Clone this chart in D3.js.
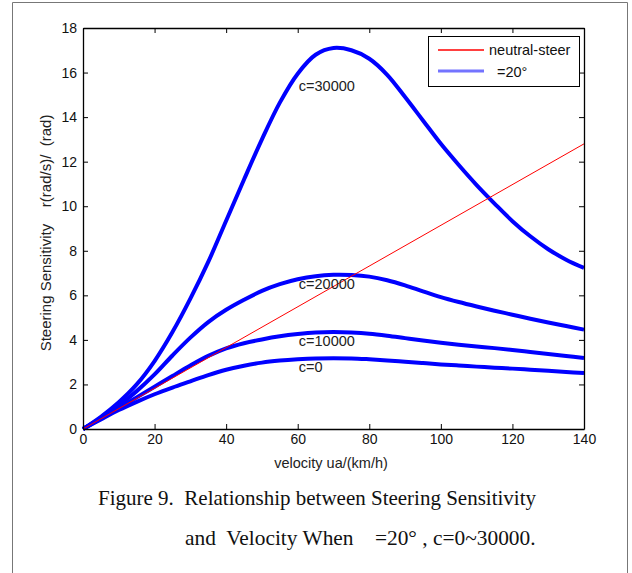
<!DOCTYPE html>
<html>
<head>
<meta charset="utf-8">
<title>Steering sensitivity vs velocity</title>
<script src="https://d3js.org/d3.v7.min.js"></script>
<style>
  body { margin: 0; background: #fff; }
  svg text { white-space: pre; }
</style>
</head>
<body>
<svg width="632" height="573"></svg>
<script>
// velocity (km/h) and steering sensitivity readings for each c value
var velocity = [0, 5, 10, 15, 20, 25, 30, 35, 40, 45, 50, 55, 60, 65, 70,
                75, 80, 85, 90, 95, 100, 105, 110, 115, 120, 125, 130, 135, 140];
var gainC30000 = [0, 0.55, 1.2, 2.0, 3.05, 4.35, 5.85, 7.5, 9.35, 11.2, 13.0, 14.65, 15.95, 16.8, 17.1,
                  17.0, 16.62, 15.9, 14.9, 13.85, 12.8, 11.85, 10.95, 10.12, 9.33, 8.65, 8.07, 7.6, 7.23];
var gainC20000 = [0, 0.5, 1.05, 1.7, 2.45, 3.3, 4.1, 4.8, 5.35, 5.8, 6.2, 6.5, 6.72, 6.86, 6.92,
                  6.91, 6.84, 6.68, 6.45, 6.18, 5.92, 5.7, 5.5, 5.31, 5.13, 4.95, 4.78, 4.62, 4.46];
var gainC10000 = [0, 0.47, 0.95, 1.42, 1.9, 2.38, 2.85, 3.28, 3.62, 3.85, 4.02, 4.16, 4.26, 4.33, 4.35,
                  4.33, 4.28, 4.19, 4.08, 3.97, 3.87, 3.78, 3.7, 3.63, 3.55, 3.46, 3.37, 3.28, 3.19];
var gainC0 = [0, 0.43, 0.85, 1.22, 1.56, 1.86, 2.14, 2.42, 2.66, 2.84, 2.98, 3.07, 3.13, 3.17, 3.18,
              3.17, 3.13, 3.08, 3.02, 2.96, 2.9, 2.85, 2.8, 2.75, 2.71, 2.66, 2.61, 2.56, 2.51];
var neutralVelocity = [0, 140];
var neutralGain = [0, 12.8];

var curveNames = ["c=30000", "c=20000", "c=10000", "c=0"];
var curveValues = [gainC30000, gainC20000, gainC10000, gainC0];
var xTicks = [0, 20, 40, 60, 80, 100, 120, 140];
var yTicks = [0, 2, 4, 6, 8, 10, 12, 14, 16, 18];

var margin = { left: 83, right: 48, top: 28, bottom: 144 };
var width = 632, height = 573;
var plotW = width - margin.left - margin.right;
var plotH = height - margin.top - margin.bottom;
var font = "Liberation Sans, Arial, sans-serif";
var serif = "Liberation Serif, Times New Roman, serif";

var svg = d3.select("svg");

// outer figure frame
svg.append("path")
    .attr("d", "M12.5,573 V2.5 H627.5 V573")
    .attr("fill", "none")
    .attr("stroke", "#777")
    .attr("stroke-width", 1);

var g = svg.append("g")
    .attr("transform", "translate(" + margin.left + "," + margin.top + ")");

var x = d3.scaleLinear().domain([0, 140]).range([0, plotW]);
var y = d3.scaleLinear().domain([0, 18]).range([plotH, 0]);

var line = d3.line()
    .x(function (d) { return x(d[0]); })
    .y(function (d) { return y(d[1]); });

var smooth = d3.line()
    .x(function (d) { return x(d[0]); })
    .y(function (d) { return y(d[1]); })
    .curve(d3.curveCatmullRom.alpha(0.5));

var plot = g.append("g");

curveValues.forEach(function (vals) {
    var pts = velocity.map(function (v, i) { return [v, vals[i]]; });
    plot.append("path")
        .attr("d", smooth(pts))
        .attr("fill", "none")
        .attr("stroke", "#0000ff")
        .attr("stroke-width", 4);
});

// neutral-steer line
var neutralData = neutralVelocity.map(function (v, i) { return [v, neutralGain[i]]; });
plot.append("path")
    .attr("d", line(neutralData))
    .attr("fill", "none")
    .attr("stroke", "#ff0000")
    .attr("stroke-width", 1);

// curve labels (baseline positions in data units)
var labelPos = [[60.3, 15.15], [60.3, 6.28], [60.3, 3.73], [60.3, 2.56]];
curveNames.forEach(function (name, i) {
    g.append("text")
        .attr("x", x(labelPos[i][0]))
        .attr("y", y(labelPos[i][1]))
        .attr("font-family", font)
        .attr("font-size", 14.5)
        .attr("fill", "#222")
        .text(name);
});

// axes, MATLAB style: ticks inside on all four sides
g.append("g")
    .attr("transform", "translate(0," + plotH + ")")
    .call(d3.axisBottom(x).tickValues(xTicks).tickSizeInner(-5).tickSizeOuter(0).tickPadding(5));
g.append("g")
    .call(d3.axisLeft(y).tickValues(yTicks).tickSizeInner(-5).tickSizeOuter(0).tickPadding(6));
g.append("g")
    .call(d3.axisTop(x).tickValues(xTicks).tickSizeInner(-5).tickSizeOuter(0).tickFormat(""));
g.append("g")
    .attr("transform", "translate(" + plotW + ",0)")
    .call(d3.axisRight(y).tickValues(yTicks).tickSizeInner(-5).tickSizeOuter(0).tickFormat(""));

g.selectAll(".domain").attr("stroke", "#000").attr("stroke-width", 1.3);
g.selectAll(".tick line").attr("stroke", "#000");
g.selectAll(".tick text")
    .attr("font-family", font)
    .attr("font-size", 14)
    .attr("fill", "#111");

// axis titles
svg.append("text")
    .attr("x", 331)
    .attr("y", 468)
    .attr("text-anchor", "middle")
    .attr("font-family", font)
    .attr("font-size", 14.5)
    .attr("fill", "#222")
    .text("velocity ua/(km/h)");

svg.append("text")
    .attr("transform", "translate(51,233) rotate(-90)")
    .attr("text-anchor", "middle")
    .attr("font-family", font)
    .attr("font-size", 15)
    .attr("fill", "#222")
    .text("Steering Sensitivity    r(rad/s)/  (rad)");

// legend
var legend = svg.append("g");
legend.append("rect")
    .attr("x", 428.5).attr("y", 36.5)
    .attr("width", 151).attr("height", 50)
    .attr("fill", "#fff")
    .attr("stroke", "#000")
    .attr("stroke-width", 1);
legend.append("line")
    .attr("x1", 438).attr("x2", 484).attr("y1", 50).attr("y2", 50)
    .attr("stroke", "red").attr("stroke-width", 1.4);
legend.append("line")
    .attr("x1", 438).attr("x2", 484).attr("y1", 71).attr("y2", 71)
    .attr("stroke", "#7373ff").attr("stroke-width", 3);
legend.append("text")
    .attr("x", 489).attr("y", 55)
    .attr("font-family", font).attr("font-size", 14.5).attr("fill", "#111")
    .text("neutral-steer");
legend.append("text")
    .attr("x", 497).attr("y", 77)
    .attr("font-family", font).attr("font-size", 14.5).attr("fill", "#111")
    .text("=20°");

// caption
svg.append("text")
    .attr("x", 98).attr("y", 505)
    .attr("font-family", serif).attr("font-size", 21).attr("fill", "#111")
    .text("Figure 9.  Relationship between Steering Sensitivity");
svg.append("text")
    .attr("x", 185).attr("y", 545)
    .attr("font-family", serif).attr("font-size", 21.4).attr("fill", "#111")
    .text("and  Velocity When    =20° , c=0~30000.");
</script>
</body>
</html>
